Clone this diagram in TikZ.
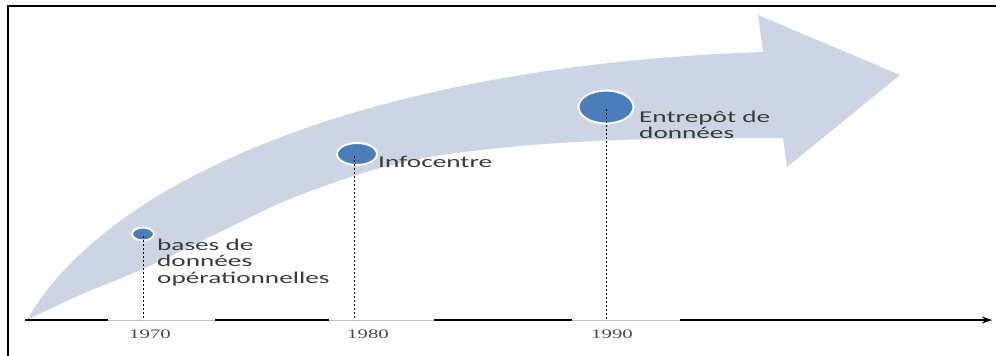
\documentclass[tikz,border=0pt]{standalone}
\usepackage{fontspec}
\usetikzlibrary{shapes.geometric,arrows.meta}
\newfontfamily\lblfont[FakeStretch=1.65]{Carlito}
\newfontfamily\yearfont[FakeStretch=1.6]{Liberation Serif}
\definecolor{bandc}{HTML}{CDD4E3}
\definecolor{dotc}{HTML}{4A7EBB}
\definecolor{txtc}{HTML}{3A3A3A}
\definecolor{yearc}{HTML}{4A4A4A}
\tikzset{
  dotnode/.style={ellipse, fill=dotc, draw=white, line width=2pt, inner sep=0pt},
  lbl/.style={anchor=base west, align=left, inner sep=0pt, text=txtc,
    font=\lblfont\fontsize{16.5}{16.5}\selectfont},
  yr/.style={anchor=base, inner sep=0pt, text=yearc,
    font=\yearfont\fontsize{13}{14}\selectfont},
  vline/.style={line width=0.9pt, dash pattern=on 2.2pt off 1.8pt},
  axisseg/.style={line width=1.4pt, black},
}
\begin{document}
\begin{tikzpicture}[x=1pt, y=-1pt]
\useasboundingbox (0,0) rectangle (996,356);
% frame
\draw[line width=2pt] (8,356) -- (8,6) -- (996,6);
% band arrow
\fill[bandc] (27,320)
  .. controls (110,175) and (380,65) .. (763,52)
  -- (758,15) -- (900,75) -- (787,167) -- (783,138)
  -- plot[smooth, tension=0.6] coordinates {(783,138) (620,140) (500,148) (400,163) (300,195) (220,232) (145,268) (80,295) (27,320)}
  -- cycle;
% axis
\coordinate (ax0) at (25,320);
\coordinate (ax1) at (992,320);
\coordinate (a1) at (143,320);
\coordinate (a2) at (354,320);
\coordinate (a3) at (606,320);
\draw[line width=0.5pt, black!25] (ax0) -- (ax1);
\draw[axisseg] (ax0) -- (108,320);
\draw[axisseg] (215,320) -- (329,320);
\draw[axisseg] (434,320) -- (572,320);
\draw[axisseg, -{Stealth[length=10pt, width=7pt]}] (680,320) -- (ax1);
% dots
\node[dotnode, minimum width=22pt, minimum height=13pt] (c1) at (143,234) {};
\node[dotnode, minimum width=40pt, minimum height=22pt] (c2) at (357,154) {};
\node[dotnode, minimum width=55pt, minimum height=33pt] (c3) at (606,107) {};
% dashed verticals
\draw[vline] (143,236) -- (a1);
\draw[vline] (354,156) -- (a2);
\draw[vline] (606,109) -- (a3);
% labels (base anchor sits on the last line)
\node[lbl] (t1) at (157,283) {bases de\\données\\opérationnelles};
\node[lbl] (t2) at (378,167) {Infocentre};
\node[lbl] (t3) at (639,138.5) {Entrepôt de\\données};
% years
\node[yr] (y1) at (150,338) {1970};
\node[yr] (y2) at (368,338) {1980};
\node[yr] (y3) at (612,338) {1990};
\end{tikzpicture}
\end{document}
